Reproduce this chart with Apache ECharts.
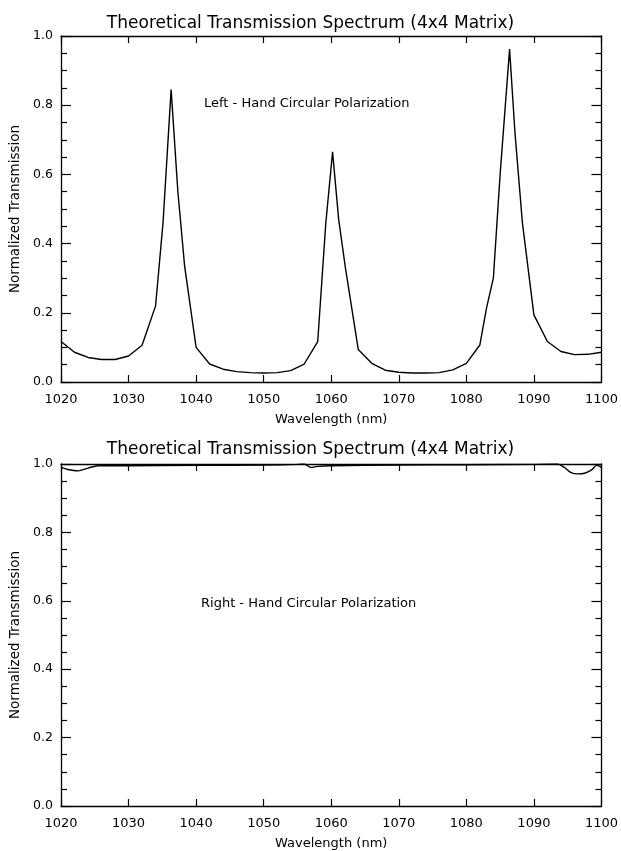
<!DOCTYPE html>
<html>
<head>
<meta charset="utf-8">
<script src="https://cdn.jsdelivr.net/npm/echarts@6/dist/echarts.min.js"></script>
<style>
html,body{margin:0;padding:0;background:#fff;}
#c{width:621px;height:851px;}
</style>
</head>
<body>
<div id="c"></div>
<script>
// ---- Data ----
const chartTitle = 'Theoretical Transmission Spectrum (4x4 Matrix)';
const xName = 'Wavelength (nm)';
const yName = 'Normalized Transmission';
const labelLeft = 'Left - Hand Circular Polarization';
const labelRight = 'Right - Hand Circular Polarization';
const xTicks = [1020, 1030, 1040, 1050, 1060, 1070, 1080, 1090, 1100];
const yTicks = [0.0, 0.2, 0.4, 0.6, 0.8, 1.0];

// Left-hand circular polarization (top panel)
const wlLeft = [1020, 1022, 1024, 1026, 1028, 1030, 1032, 1034, 1035.1, 1036.3, 1037.3, 1038.3, 1040,
  1042, 1044, 1046, 1048, 1050, 1052, 1054, 1056, 1058, 1059.2, 1060.2, 1061.1, 1062.1, 1064,
  1066, 1068, 1070, 1072, 1074, 1076, 1078, 1080, 1082, 1083, 1084, 1085, 1086.4, 1087.2, 1088.3, 1090,
  1092, 1094, 1096, 1098, 1100];
const tLeft = [0.117, 0.086, 0.071, 0.065, 0.065, 0.075, 0.106, 0.22, 0.46, 0.845, 0.55, 0.335, 0.10,
  0.052, 0.037, 0.030, 0.027, 0.026, 0.027, 0.033, 0.052, 0.117, 0.46, 0.665, 0.47, 0.33, 0.094,
  0.054, 0.034, 0.028, 0.026, 0.026, 0.027, 0.035, 0.054, 0.107, 0.215, 0.30, 0.60, 0.962, 0.72, 0.46, 0.194,
  0.117, 0.088, 0.079, 0.080, 0.086];

// Right-hand circular polarization (bottom panel)
const wlRight = [1020, 1021, 1022.5, 1024, 1025.5, 1030, 1040, 1050, 1055, 1056, 1057, 1058, 1060, 1070,
  1080, 1090, 1093.5, 1094.5, 1095.5, 1096.5, 1097.5, 1098.5, 1099.3, 1100];
const tRight = [0.99, 0.984, 0.98, 0.988, 0.995, 0.995, 0.996, 0.997, 0.999, 1.0, 0.99, 0.993, 0.995, 0.997,
  0.998, 0.999, 1.0, 0.99, 0.975, 0.971, 0.973, 0.982, 0.996, 0.99];

// ---- Chart ----
const FONT = 'DejaVu Sans';
const black = '#000';
function pairs(xs, ys){ return xs.map((x,i)=>[x, ys[i]]); }

const grids = [
  {left: 61, right: 16, top: 36, height: 346},
  {left: 61, right: 16, top: 464, height: 344}
];

function xAxes(gi){
  return [
    {type:'value', gridIndex:gi, min:xTicks[0], max:xTicks[xTicks.length-1], interval:10, position:'bottom',
     name:xName, nameLocation:'middle', nameGap:31,
     nameTextStyle:{fontFamily:FONT, fontSize:13, color:black},
     axisLine:{show:true, onZero:false, lineStyle:{color:black, width:1.3}},
     axisTick:{show:true, inside:true, length:7, lineStyle:{color:black, width:1.2}},
     axisLabel:{show:true, margin:11, fontFamily:FONT, fontSize:13, color:black,
       formatter:v=>String(v)},
     splitLine:{show:false}},
    {type:'value', gridIndex:gi, min:xTicks[0], max:xTicks[xTicks.length-1], interval:10, position:'top',
     axisLine:{show:true, onZero:false, lineStyle:{color:black, width:1.3}},
     axisTick:{show:true, inside:true, length:7, lineStyle:{color:black, width:1.2}},
     axisLabel:{show:false}, splitLine:{show:false}}
  ];
}
function yAxes(gi){
  return [
    {type:'value', gridIndex:gi, min:yTicks[0], max:yTicks[yTicks.length-1], interval:0.2, position:'left',
     name:yName, nameLocation:'middle', nameGap:38, nameRotate:90,
     nameTextStyle:{fontFamily:FONT, fontSize:13.5, color:black},
     axisLine:{show:true, onZero:false, lineStyle:{color:black, width:1.3}},
     axisTick:{show:true, inside:true, length:10, lineStyle:{color:black, width:1.2}},
     minorTick:{show:true, splitNumber:4, length:6, lineStyle:{color:black, width:1.2}},
     axisLabel:{show:true, margin:8, fontFamily:FONT, fontSize:12.5, color:black,
       formatter:v=>v.toFixed(1)},
     splitLine:{show:false}},
    {type:'value', gridIndex:gi, min:yTicks[0], max:yTicks[yTicks.length-1], interval:0.2, position:'right',
     axisLine:{show:true, onZero:false, lineStyle:{color:black, width:1.3}},
     axisTick:{show:true, inside:true, length:10, lineStyle:{color:black, width:1.2}},
     minorTick:{show:true, splitNumber:4, length:6, lineStyle:{color:black, width:1.2}},
     axisLabel:{show:false}, splitLine:{show:false}}
  ];
}

const chart = echarts.init(document.getElementById('c'), null, {renderer:'canvas'});
chart.setOption({
  backgroundColor:'#fff',
  animation:false,
  title:[
    {text:chartTitle, left:'center', top:10, textStyle:{fontFamily:FONT, fontSize:17, fontWeight:'normal', color:black}},
    {text:chartTitle, left:'center', top:436, textStyle:{fontFamily:FONT, fontSize:17, fontWeight:'normal', color:black}},
    {text:labelLeft, left:199, top:92, textStyle:{fontFamily:FONT, fontSize:13, fontWeight:'normal', color:black}},
    {text:labelRight, left:196, top:592, textStyle:{fontFamily:FONT, fontSize:13, fontWeight:'normal', color:black}}
  ],
  grid:grids,
  xAxis:[...xAxes(0), ...xAxes(1)],
  yAxis:[...yAxes(0), ...yAxes(1)],
  series:[
    {type:'line', xAxisIndex:0, yAxisIndex:0, data:pairs(wlLeft, tLeft), showSymbol:false,
     lineStyle:{color:black, width:1.4}},
    {type:'line', xAxisIndex:2, yAxisIndex:2, data:pairs(wlRight, tRight), showSymbol:false, smooth:0.3,
     lineStyle:{color:black, width:1.4}}
  ]
});
</script>
</body>
</html>
